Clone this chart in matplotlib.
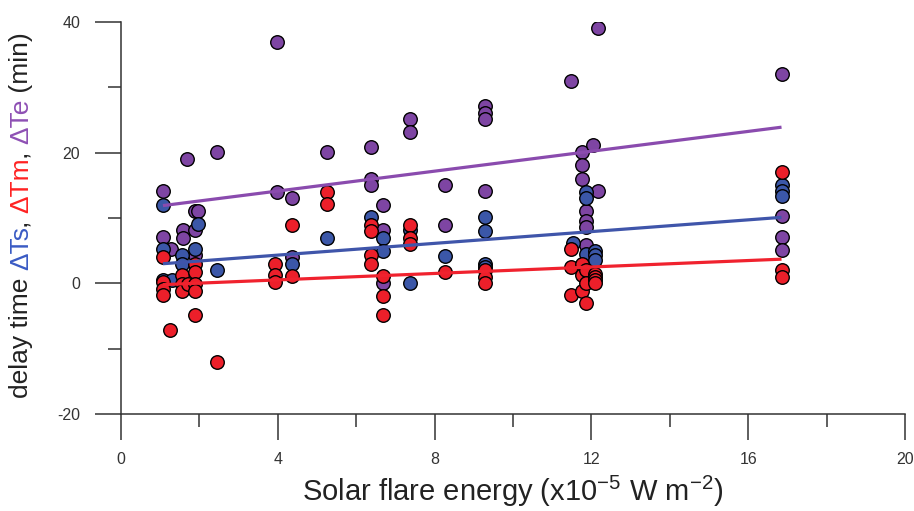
import matplotlib
matplotlib.use("Agg")
import matplotlib.pyplot as plt
import numpy as np

plt.rcParams['font.family'] = ['Liberation Sans', 'DejaVu Sans']
plt.rcParams['mathtext.fontset'] = 'custom'
plt.rcParams['mathtext.rm'] = 'Liberation Sans'
plt.rcParams['mathtext.default'] = 'regular'

# ---- data ----
ts_x = [1.07, 1.07, 1.07, 1.29, 1.55, 1.55, 1.89, 1.97, 2.46, 4.37, 5.25, 6.38, 6.68, 6.68,
        7.37, 7.37, 8.27, 9.29, 9.29, 9.29, 9.29, 11.54, 11.86, 11.86, 11.86, 12.09, 12.09,
        12.09, 16.85, 16.85, 16.85]
ts_y = [12.0, 5.2, 0.5, 0.5, 4.3, 3.0, 5.3, 9.1, 2.0, 3.0, 7.0, 10.2, 7.0, 5.0,
        8.1, 0.0, 4.2, 10.1, 8.0, 3.0, 2.5, 6.2, 14.0, 13.0, 4.5, 5.0, 4.3,
        3.5, 15.0, 14.2, 13.3]

tm_x = [1.07, 1.07, 1.07, 1.07, 1.25, 1.55, 1.55, 1.55, 1.72, 1.89, 1.89, 1.89, 1.89, 1.89,
        2.46, 3.93, 3.93, 3.93, 4.37, 4.37, 5.25, 5.25, 6.38, 6.38, 6.38, 6.38, 6.68, 6.68,
        6.68, 7.37, 7.37, 7.37, 8.27, 9.29, 9.29, 9.29, 11.47, 11.47, 11.47, 11.75, 11.75,
        11.75, 11.86, 11.86, 11.86, 12.1, 12.1, 12.1, 12.1, 16.85, 16.85, 16.85]
tm_y = [4.0, 0.2, -0.8, -1.8, -7.1, 1.2, -0.1, -1.1, -0.1, 3.0, 1.7, -0.1, -1.1, -4.9,
        -12.0, 3.0, 1.2, 0.2, 9.0, 1.1, 14.0, 12.1, 9.0, 8.0, 4.3, 3.0, 1.1, -2.0,
        -4.9, 9.0, 7.0, 6.0, 1.8, 2.0, 1.0, 0.0, 5.3, 2.5, -1.8, 3.0, 1.2,
        -1.1, 2.0, 0.0, -3.0, 1.5, 1.0, 0.5, 0.0, 17.0, 2.0, 1.0]

te_x = [1.07, 1.07, 1.27, 1.57, 1.57, 1.68, 1.89, 1.89, 1.89, 1.97, 2.46, 3.97, 3.97, 4.37,
        4.37, 5.25, 6.38, 6.38, 6.38, 6.68, 6.68, 6.68, 7.37, 7.37, 8.27, 8.27, 9.29, 9.29,
        9.29, 9.29, 11.47, 11.75, 11.75, 11.75, 11.86, 11.86, 11.86, 11.86, 12.05, 12.18,
        12.18, 16.85, 16.85, 16.85, 16.85]
te_y = [14.1, 7.1, 5.2, 8.2, 6.9, 19.0, 11.0, 8.1, 4.3, 11.0, 20.1, 37.0, 14.0, 13.0,
        4.0, 20.1, 20.9, 15.9, 15.0, 12.0, 8.1, 0.0, 25.2, 23.1, 15.1, 9.0, 27.1, 26.1,
        25.2, 14.1, 30.9, 20.1, 18.1, 15.9, 11.1, 9.6, 8.6, 5.8, 21.1, 39.1,
        14.1, 32.0, 10.3, 7.1, 5.1]

# fitted lines (end points)
fit_x = [1.07, 16.85]
fit_ts = [3.0, 10.1]
fit_tm = [-0.2, 3.7]
fit_te = [11.9, 23.9]

x_ticks = [0, 4, 8, 12, 16, 20]
y_ticks = [-20, 0, 20, 40]

c_te = '#7E45A3'
c_ts = '#3B57A8'
c_tm = '#EC1F2A'
l_te = '#8A4BAE'
l_ts = '#3F55AA'
l_tm = '#F0222E'

fig = plt.figure(figsize=(9.14, 5.11), dpi=100)
ax = fig.add_axes([121/914, 97/511, 784/914, 392/511])

ms = 95
ax.scatter(te_x, te_y, s=ms, c=c_te, edgecolors='black', linewidths=1.0, zorder=3)
ax.scatter(ts_x, ts_y, s=ms, c=c_ts, edgecolors='black', linewidths=1.0, zorder=4)
ax.scatter(tm_x, tm_y, s=ms, c=c_tm, edgecolors='black', linewidths=1.0, zorder=5)

ax.plot(fit_x, fit_te, color=l_te, lw=2.3, zorder=6, solid_capstyle='butt')
ax.plot(fit_x, fit_ts, color=l_ts, lw=2.3, zorder=6, solid_capstyle='butt')
ax.plot(fit_x, fit_tm, color=l_tm, lw=2.3, zorder=6, solid_capstyle='butt')

ax.set_xlim(0, 20)
ax.set_ylim(-20, 40)
ax.set_xticks(x_ticks)
ax.set_xticks([2, 6, 10, 14, 18], minor=True)
ax.set_yticks(y_ticks)
ax.set_yticks([-10, 10, 30], minor=True)
ax.set_xticklabels([str(v) for v in x_ticks])
ax.set_yticklabels([str(v) for v in y_ticks])

for s in ['top', 'right']:
    ax.spines[s].set_visible(False)
for s in ['left', 'bottom']:
    ax.spines[s].set_color('#333333')
    ax.spines[s].set_linewidth(1.1)
ax.tick_params(which='major', direction='out', length=18.5, width=1.1, color='#333333',
               labelsize=11.5, labelcolor='#333333')
ax.tick_params(axis='y', which='major', pad=11)
ax.tick_params(axis='x', which='major', pad=9)
ax.tick_params(which='minor', direction='out', length=9.5, width=1.1, color='#333333')
ax.set_axisbelow(True)
ax.patch.set_alpha(0)

ax.set_xlabel('Solar flare energy (x10$^{-5}$ W m$^{-2}$)', fontsize=21, color='#222222', labelpad=5)

# multi-coloured y label
parts = [("delay time ", '#222222'), ("ΔTs", '#3A5BC4'), (", ", '#222222'),
         ("ΔTm", '#FF2222'), (", ", '#222222'), ("ΔTe", '#8E50B4'), (" (min)", '#222222')]
fs = 19
renderer = fig.canvas.get_renderer()
full = ''.join(p for p, _ in parts)

def w(txt):
    t = fig.text(0, 0, txt + '|', fontsize=fs)
    bb = t.get_window_extent(renderer)
    t.remove()
    t2 = fig.text(0, 0, '|', fontsize=fs)
    bb2 = t2.get_window_extent(renderer)
    t2.remove()
    return bb.width - bb2.width

total = w(full)
xc = 28  # baseline x position in pixels
cy = 511 - 215
start = cy - total / 2.0
prefix = ''
for txt, col in parts:
    off = w(prefix) if prefix else 0.0
    fig.text(xc / 914, (start + off) / 511, txt, fontsize=fs, color=col, rotation=90,
             rotation_mode='anchor', ha='left', va='baseline')
    prefix += txt

fig.savefig('out.png', dpi=100)
